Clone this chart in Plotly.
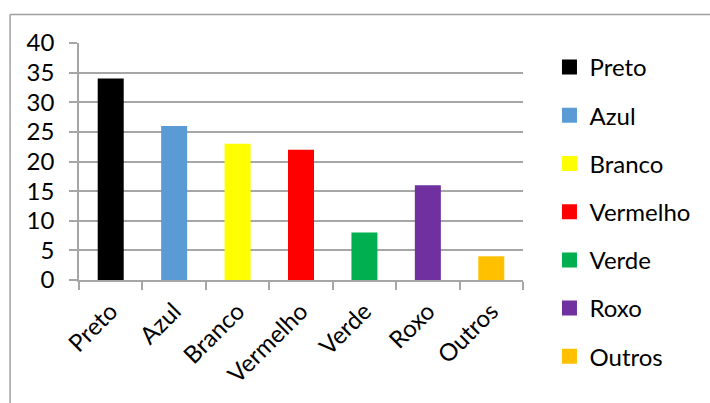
import plotly.graph_objects as go

categories = ["Preto", "Azul", "Branco", "Vermelho", "Verde", "Roxo", "Outros"]
values = [34, 26, 23, 22, 8, 16, 4]
colors = ["#000000", "#5B9BD5", "#FFFF00", "#FF0000", "#00B050", "#7030A0", "#FFC000"]
y_ticks = [0, 5, 10, 15, 20, 25, 30, 35, 40]

W, H = 710, 403
L, R, T, B = 79, 186.5, 43, 123
pw, ph = W - L - R, H - T - B

FONT = "Lato"
FS = 24
GRID = "#A6A6A6"

fig = go.Figure()
for cat, val, col in zip(categories, values, colors):
    fig.add_trace(go.Bar(
        x=[cat], y=[val], name=cat, marker_color=col, marker_line_width=0,
        width=0.41, legendgroup=cat, showlegend=False,
    ))
    # legend key: square swatch matching the bar colour
    fig.add_trace(go.Scatter(
        x=[None], y=[None], mode="markers", name=cat, legendgroup=cat,
        marker=dict(symbol="square", size=15, color=col, line_width=0),
        hoverinfo="skip",
    ))

# chart frame (top and left edges)
px2x = lambda p: (p - L) / pw
py2y = lambda p: (H - B - p) / ph
frame = dict(type="line", xref="paper", yref="paper", line=dict(color="#A0A0A0", width=1.5))
fig.add_shape(**frame, x0=px2x(10), y0=py2y(14.5), x1=px2x(712), y1=py2y(14.5))
fig.add_shape(**frame, x0=px2x(10), y0=py2y(14.5), x1=px2x(10), y1=py2y(405))

fig.update_layout(
    width=W, height=H,
    margin=dict(l=L, r=R, t=T, b=B, pad=0),
    paper_bgcolor="white", plot_bgcolor="white",
    barmode="overlay",
    font=dict(family=FONT, size=FS, color="#000000"),
    showlegend=True,
    legend=dict(
        x=px2x(550), y=py2y(45), xanchor="left", yanchor="top",
        traceorder="grouped", tracegroupgap=14, maxheight=400,
        itemsizing="trace",
        font=dict(family=FONT, size=FS), bgcolor="rgba(0,0,0,0)",
    ),
    xaxis=dict(
        type="category", categoryorder="array", categoryarray=categories,
        range=[-0.5, 6.5], showline=True, linecolor=GRID, linewidth=1.5,
        ticks="outside", tickson="boundaries", ticklen=8, tickcolor=GRID, tickwidth=1.5,
        tickangle=-45, showgrid=False, ticklabelstandoff=6,
        tickfont=dict(family=FONT, size=FS),
    ),
    yaxis=dict(
        range=[0, 40], tickvals=y_ticks, showline=True, linecolor=GRID, linewidth=1.5,
        ticks="outside", ticklen=8, tickcolor=GRID, tickwidth=1.5,
        showgrid=True, gridcolor=GRID, gridwidth=1.5, zeroline=False,
        ticklabelstandoff=10, tickfont=dict(family=FONT, size=FS),
    ),
)

fig.write_html("out.html")
